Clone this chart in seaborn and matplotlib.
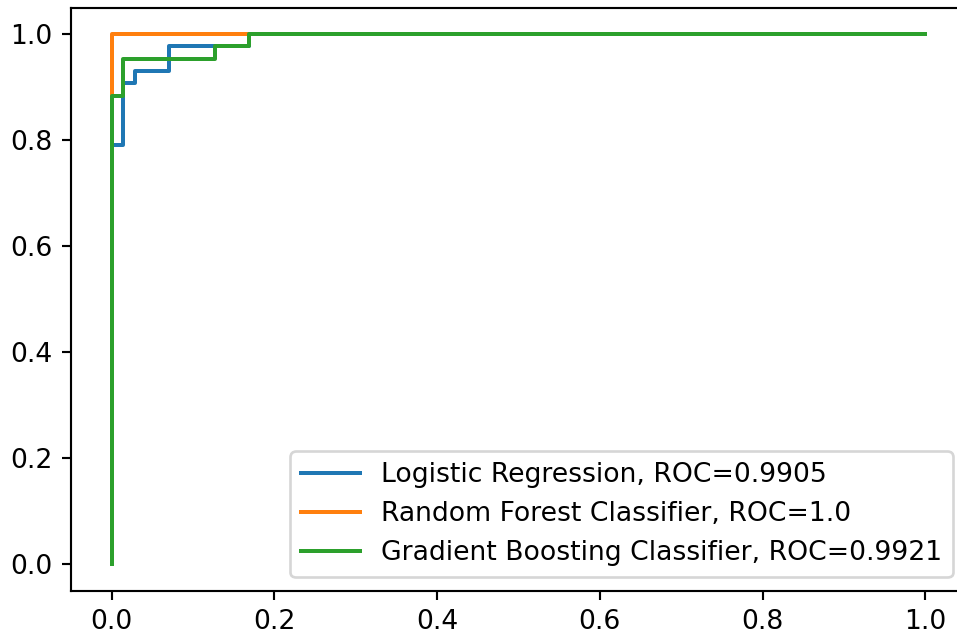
import numpy as np
import pandas as pd
import matplotlib
matplotlib.use("Agg")
import matplotlib.pyplot as plt
import seaborn as sns

# Test-set class sizes
n_neg = 71
n_pos = 43

# ROC vertices as counts of false positives / true positives
lr_fp = [0, 0, 1, 1, 2, 2, 5, 5, 12, 12, 71]
lr_tp = [0, 34, 34, 39, 39, 40, 40, 42, 42, 43, 43]

rf_fp = [0, 0, 71]
rf_tp = [0, 43, 43]

gb_fp = [0, 0, 1, 1, 9, 9, 12, 12, 71]
gb_tp = [0, 38, 38, 41, 41, 42, 42, 43, 43]

models = ["Logistic Regression", "Random Forest Classifier", "Gradient Boosting Classifier"]
curves = [(lr_fp, lr_tp), (rf_fp, rf_tp), (gb_fp, gb_tp)]
colors = ["#1f77b4", "#ff7f0e", "#2ca02c"]

dpi = 192
fig = plt.figure(figsize=(957 / dpi, 638 / dpi), dpi=dpi)
ax = fig.add_axes([71 / 957, 47.5 / 638, (966 - 71) / 957, (590.5 - 7.5) / 638])

for name, (fp, tp), color in zip(models, curves, colors):
    fpr = np.array(fp) / n_neg
    tpr = np.array(tp) / n_pos
    auc = round(float(np.trapezoid(tpr, fpr)), 4)
    df = pd.DataFrame({"fpr": fpr, "tpr": tpr})
    sns.lineplot(data=df, x="fpr", y="tpr", sort=False, estimator=None,
                 color=color, linewidth=1.5, ax=ax,
                 label=f"{name}, ROC={auc}")

ax.set_xlabel("")
ax.set_ylabel("")
ax.set_xticks([0.0, 0.2, 0.4, 0.6, 0.8, 1.0])
ax.set_yticks([0.0, 0.2, 0.4, 0.6, 0.8, 1.0])
ax.set_xlim(-0.05, 1.05)
ax.set_ylim(-0.05, 1.05)
ax.legend(loc="lower right", handlelength=2.2)

fig.savefig("out.png", dpi=dpi)
